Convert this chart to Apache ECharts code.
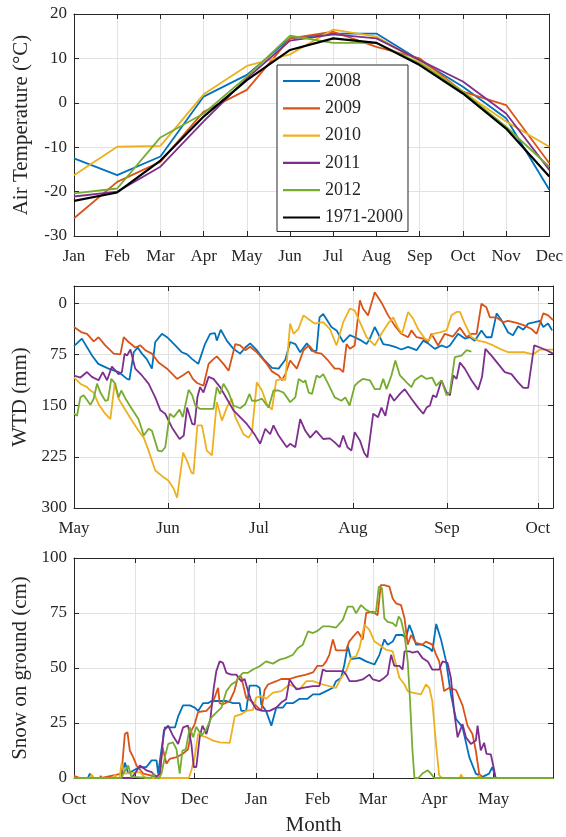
<!DOCTYPE html>
<html>
<head>
<meta charset="utf-8">
<script src="https://cdn.jsdelivr.net/npm/echarts@6/dist/echarts.min.js"></script>
<style>
html, body { margin: 0; padding: 0; background: #fff; }
#chart { width: 566px; height: 837px; }
</style>
</head>
<body>
<div id="chart"></div>
<script>
// ---- air temperature, monthly means (deg C)
const airMonths = ['Jan','Feb','Mar','Apr','May','Jun','Jul','Aug','Sep','Oct','Nov','Dec'];
const air2008 = [-12.5, -16.3, -12.1, 1.4, 6.3, 14.5, 15.6, 15.6, 9.6, 3.6, -3.5, -19.6];
const air2009 = [-26, -17.8, -13.3, -2, 2.9, 14.5, 16, 12.6, 10, 2.5, -0.5, -13.6];
const air2010 = [-16.3, -9.9, -9.7, 1.9, 8.3, 10.9, 16.5, 14.9, 9.3, 2.5, -4.2, -9.9];
const air2011 = [-21.1, -20, -14.4, -4.2, 5.5, 14, 15.4, 14.5, 9.6, 4.8, -2.4, -15.1];
const air2012 = [-20.4, -19.3, -7.8, -2.4, 5.9, 15.1, 13.5, 13.5, 8.9, 2.5, -5.4, -14.4];
const airNormal = [-22.1, -20.2, -13, -3.1, 5.1, 11.9, 14.5, 13.5, 8.5, 2.1, -5.8, -16.6];

// ---- water table depth, [days since May 1, mm]
const wtdMonthDays = [0, 31, 61, 92, 123, 153];
const wtdMonthLabels = ['May','Jun','Jul','Aug','Sep','Oct'];
const wtd2008 = [[0,63],[2.6,52],[6,77],[8,89],[11.4,96],[14.7,101],[17.5,111],[18.3,112],[19.7,72],[21,65],[22.4,74],[24,82],[25.7,96],[26.8,57],[29,45],[30.7,50],[33.4,62],[35.6,72],[37.3,75],[39,82],[41,89],[43.2,60],[44.9,45],[46.5,44],[47.1,55],[48.4,39],[50.4,55],[52.6,67],[54.8,74],[56.5,65],[58.1,59],[60.3,69],[62.5,82],[65.3,95],[67.5,96],[69.7,83],[71.3,57],[73,60],[74.6,72],[76.8,59],[78.5,70],[80,70],[81,21],[82.2,16],[84.9,35],[86.6,40],[88.8,57],[91,47],[92.6,50],[94.8,55],[96.5,60],[97.6,52],[99.2,35],[100.9,50],[102,60],[104.2,62],[106.4,65],[108,68],[110.2,64],[113,69],[115.2,55],[116.8,59],[119,67],[121.2,62],[122.9,65],[124,62],[126.7,45],[128.9,52],[130.6,50],[132.2,55],[134.4,40],[136,50],[137.7,50],[139.4,15],[141,25],[143.2,43],[144.8,47],[146.5,34],[148.2,39],[149.8,30],[152,28],[153.7,26],[154.8,35],[156.4,30],[157.7,40]];
const wtd2009 = [[0,35],[2.6,43],[4.3,45],[6.5,56],[8.1,50],[10.3,62],[13.1,74],[15.3,75],[16.4,50],[18,57],[20.2,65],[21.9,62],[23.5,69],[25.7,74],[27.9,87],[30.7,96],[34,111],[36.2,105],[37.8,100],[39.2,111],[40.6,117],[42.7,121],[44.4,89],[46,82],[47.1,78],[49.3,89],[51,99],[53.2,60],[54.8,62],[56.5,69],[58.1,64],[60.3,72],[63.6,89],[65.3,100],[67.5,106],[68.6,113],[69.7,104],[71.3,84],[73.5,96],[75.7,69],[77.5,62],[79.4,72],[81.6,74],[83.8,84],[86,96],[87.6,96],[88.8,101],[89.9,60],[91,67],[92.6,62],[94.3,-4],[95.3,8],[97,18],[99.2,-16],[101.4,-1],[103.6,18],[105.8,33],[108,45],[110.2,50],[111.3,40],[113,50],[115.2,52],[116.8,57],[117.9,45],[120.1,62],[122.3,45],[125,49],[127.3,36],[129.5,50],[131.1,45],[132.8,45],[134.4,1],[136,6],[137.2,21],[139.4,21],[141.6,28],[143.2,26],[146,29],[148.7,33],[150.9,38],[152.6,45],[154.8,15],[156.4,18],[158,25]];
const wtd2010 = [[0,109],[2.1,118],[4.3,123],[5.4,128],[6.5,131],[8.1,148],[10.3,162],[12,170],[12.6,170],[13.4,118],[14.7,140],[17,157],[19.1,172],[21.3,187],[23,197],[24.6,216],[26.8,245],[29,253],[31.2,260],[32.9,272],[34,285],[36,219],[37.3,231],[38.7,248],[39.4,250],[40.7,179],[42.2,179],[43.8,216],[45.5,223],[46,225],[47.1,145],[48.8,172],[50.4,153],[52,140],[53.2,167],[55.9,192],[57.6,197],[58.7,189],[60.3,116],[62,128],[63.6,148],[65.3,156],[66.7,113],[68.6,111],[69.7,113],[71.3,30],[72.4,45],[74,38],[75.7,18],[77.5,24],[79.4,30],[82.2,28],[84.4,38],[86.6,62],[88.8,28],[91,8],[92.6,11],[94.3,28],[96.5,50],[99.2,62],[101.4,45],[103.6,30],[105.3,21],[106.7,35],[108.2,45],[110.2,13],[111.9,23],[113.5,38],[115.7,52],[117,55],[118.4,45],[120.7,43],[122.9,40],[124.5,18],[126.2,13],[127.3,13],[128.9,30],[131.1,50],[133.3,55],[135.5,57],[138.3,62],[140.5,67],[143.2,72],[146,72],[148.7,72],[151.5,75],[153.7,68],[155.9,68],[158,68]];
const wtd2011 = [[0,106],[2.1,109],[4.3,101],[5.9,108],[8.1,113],[9.5,101],[10.9,113],[12.5,93],[14.7,104],[15.8,101],[16.7,74],[17.5,77],[18.6,68],[20.2,96],[22.4,106],[24.6,118],[26.8,138],[28.5,157],[30.1,162],[32.3,182],[34.8,199],[36.2,194],[37.3,153],[39,177],[39.8,178],[40.7,138],[41.6,123],[42.7,131],[44.4,108],[46,111],[48.2,123],[50.4,140],[52.6,157],[54.8,167],[57,177],[58.7,187],[59.8,194],[61.4,206],[63.1,184],[64.7,192],[65.8,179],[67.5,194],[70.2,211],[71.3,206],[73,211],[74.6,170],[76.3,187],[77.9,197],[79.9,187],[82.2,199],[84.4,198],[86,204],[87.6,211],[88.8,194],[90.2,211],[91.5,216],[92.6,189],[94.3,201],[95.7,219],[96.8,226],[98.7,162],[100.3,167],[101.4,153],[102.7,165],[104.2,133],[105.6,143],[107.5,133],[109.1,126],[111.3,140],[113.5,153],[115.2,162],[116.3,153],[117.4,150],[118.4,135],[119.5,138],[121.2,113],[122.9,131],[124,135],[125.1,106],[126.2,111],[127.3,87],[128.9,96],[131.1,113],[133.3,127],[134.6,108],[135.7,67],[137.7,77],[139.9,89],[142.1,101],[144.3,104],[146.5,116],[148.2,124],[149.8,124],[151.8,62],[153.7,65],[155.9,69],[158,74]];
const wtd2012 = [[0,162],[1,165],[2.1,138],[3.2,135],[5.4,149],[6.5,140],[7.6,118],[8.7,131],[10.3,143],[11.2,142],[12.3,111],[13.6,118],[14.7,138],[15.6,128],[17,140],[19.1,155],[21.3,170],[23,194],[24.6,184],[25.7,187],[27.7,216],[29,217],[30.1,211],[31.6,162],[32.9,167],[34.8,156],[35.9,167],[37.8,127],[39,135],[40,150],[41.6,155],[43.8,155],[46,155],[47.1,123],[48.2,133],[49.3,118],[51,131],[52.6,150],[54.8,154],[56.5,148],[57.9,133],[58.7,143],[60.3,143],[62,140],[64.2,153],[65.8,128],[67.5,128],[69.1,131],[71.3,145],[73,138],[74.1,111],[75.7,116],[76.3,113],[77.4,131],[78.5,133],[80,106],[81,109],[82.2,104],[83.8,118],[86,138],[88.2,143],[89.5,138],[90.9,150],[92.6,121],[93.7,116],[95.3,111],[97.6,113],[99.2,126],[100.9,126],[102,111],[103.1,126],[104.7,106],[106,84],[107.5,106],[109.7,116],[111.3,123],[112.4,113],[114.6,106],[116.3,111],[118.1,109],[119.5,121],[121.2,113],[122.9,135],[124,130],[125.6,79],[127.8,77],[129.5,69],[131.1,71]];

// ---- snow depth, [days since Oct 1, cm]
const snowMonthDays = [0, 31, 61, 92, 123, 151, 182, 212];
const snowMonthLabels = ['Oct','Nov','Dec','Jan','Feb','Mar','Apr','May'];
const snow2008 = [[0,0],[7,0],[8,2],[9,0],[24,0],[25.7,7],[27.4,2],[32.4,4.7],[36.6,5],[39.2,8],[41.7,8],[42.5,2],[44.2,13],[45.9,23],[51,23],[52.6,28],[55.1,33],[58.5,33],[61,32],[62.7,30.5],[65.2,34],[67.7,34],[69.4,35],[77,35],[80.3,34],[83.7,34],[84.5,30.5],[87,30.5],[88.7,42],[92,42],[93.8,41],[94.6,33.5],[97,30.5],[99.7,23.8],[102.2,32],[105.5,32],[107.2,34],[110.6,34],[114,36],[118,36],[120.7,38],[124,38],[127.4,39.5],[130.8,41],[132.4,44],[135,45.6],[136.6,51.6],[138.3,60],[140,54],[144.2,54.6],[147.6,53],[151.8,51.6],[154.3,56],[156.8,63],[158.5,60.6],[161,62],[162.7,65],[166,65],[167.7,63.6],[169.4,69.6],[171,66],[172.8,60.6],[176,60.6],[179.5,59],[181,57.6],[183,70],[185.4,63],[188,53],[190.4,38],[193,26.8],[196.3,23],[199.7,9.5],[203,2],[206.4,0.5],[209.7,2],[211.4,5],[213,0],[242,0]];
const snow2009 = [[0,1],[3,0],[13,0],[13.5,1],[14,0],[24,2],[25.7,20],[27,20.8],[28.2,12.5],[29.9,9.5],[31.6,5.7],[35,2],[41.7,0.5],[43.4,2],[44.7,14],[46.7,6.5],[48.4,8.7],[51.8,9.5],[55,11],[57.6,13],[59.3,21.5],[61,24.5],[62.7,30],[66.9,30.5],[69.4,33],[71,36.5],[72.8,41],[73.6,34],[75.3,33.5],[78.7,35],[81,39.5],[82.9,46],[84.5,46],[87,36.5],[89.6,35],[91.3,33.5],[93,32],[94.6,30.5],[96.3,40],[98,42.5],[102.2,44],[104.7,45],[108.9,45],[112.3,46],[117.3,47],[120.7,48],[123,51],[125.7,51],[127.4,53],[129,56],[130.8,63],[132.4,58],[137.5,58],[139,62],[140.8,64],[143.4,66.6],[145.9,63],[147.6,75],[151,75.6],[153.4,74],[155,87.7],[156.8,87.7],[159.3,87],[161,81.6],[162.7,79.4],[165.2,78.6],[167,72.6],[168.6,60.6],[170.3,65],[172.8,61.4],[176,60.6],[177.8,62],[181,60.6],[183,56],[184.5,53],[186.2,44],[187,39.5],[189.6,41],[193,40],[196.3,33],[198.8,23.8],[201.3,20],[203,12.5],[204.7,2],[206.4,0],[242,0]];
const snow2010 = [[0,0],[8,0],[8.9,1.6],[10,0],[20,0],[20.7,1.6],[21.5,0],[23,0],[24,6.5],[25.7,2],[33.3,2.7],[36,0],[58,0],[59.3,3.5],[61,9.5],[62.7,20],[64.4,19.2],[66.9,18.5],[70.3,17],[73.6,16.2],[78.7,16],[81.2,28],[84.5,29],[87,30.5],[90.4,31],[92,36.5],[94.6,37.3],[97,36],[100.5,38.8],[104.7,39.5],[108.9,42.5],[114,40.3],[117.3,44],[120.7,44],[125.7,42.5],[132.4,41],[135,45.6],[137.5,48.6],[140,54.6],[142.5,55.3],[144.2,59],[146.7,69.6],[149.2,67.4],[151.8,62],[154.3,60.6],[157.6,58.3],[161,57.6],[162.7,51.6],[164.4,45.6],[167,42.5],[168.6,39.5],[171,38.8],[175.3,38],[177.8,42.5],[179.5,41],[181,35],[182.9,15.5],[184.5,1.2],[186,0],[195,0],[195.5,1.6],[196.5,0],[204,0],[204.7,1.2],[205.5,0],[242,0]];
const snow2011 = [[0,0],[29,0],[30.8,2],[33.3,5.7],[36.6,3.5],[39.2,2.7],[41.7,0.5],[43.4,2],[45.4,21.5],[47.6,23.8],[50,19.2],[52.6,15.5],[55.1,23],[57.6,23.8],[59.3,15.5],[60.5,5],[61.8,5],[63.5,18.5],[64.9,23.8],[66.9,20],[68.9,26.8],[70.6,41],[71.9,48.6],[73.6,53],[75.3,52.3],[77,47.8],[79.5,47],[82,47],[84.5,44],[86.2,45],[87.9,39.5],[89.6,35],[92,31.3],[95.5,30.5],[98.8,30.5],[102.2,32],[104.7,34.3],[107.2,35.8],[108.9,44.8],[110.6,42.5],[112.3,40.3],[115.6,41],[120.7,41.8],[124,41.8],[125.7,49.3],[127.4,48.6],[136,48.6],[137.5,47],[139.2,44],[142.5,44],[145.9,44.8],[149.2,47],[151,44.8],[154.3,44],[156.8,45.6],[158.5,47],[160.2,56],[161.8,51],[164.4,51],[166,49.3],[167,57.6],[169.4,57.6],[171,57],[173.6,57.6],[176,54.6],[178.7,53],[181,49.3],[184.5,49.3],[186.2,53],[188.7,52.3],[190.4,45.6],[192,30.5],[193.8,18.5],[196.3,24.5],[198,18.5],[200.5,15.5],[203,17],[203.9,23.8],[205.5,12.5],[207.2,16],[208.4,11],[210.6,10.7],[212.3,3.5],[213,0],[242,0]];
const snow2012 = [[0,0],[24,0],[24.9,2],[27.4,5.7],[29,0.5],[39,0],[40,2],[41,0],[43,0],[44.2,2],[45.9,9.5],[47.6,15.5],[50,16.2],[51.8,13],[53.4,2],[54.8,12.5],[56.5,13],[58.5,23],[60.2,18.5],[61.8,23.3],[64.4,19.2],[66.9,22.3],[69.4,27.5],[72,29.8],[74.5,32],[77,39.5],[79.5,42.5],[82,44],[83.7,46.3],[85.4,47.8],[87.9,47.8],[90.4,49.3],[93.8,50.8],[97,53],[100.5,52],[103.9,53.8],[107.2,54.6],[110.6,56],[113,59],[115.6,60.6],[118.2,66.6],[120.7,65.9],[123.2,67],[125.7,68.9],[129,68.9],[132.4,68.4],[135.8,71.9],[138.3,77.9],[140.8,77.9],[142.5,74.9],[145,78.6],[147.6,76.4],[151,74.9],[152.6,75.6],[154,87],[155.6,86.2],[156.8,72.6],[158.5,71],[161,70.4],[162.7,68.9],[164,73.4],[165.2,71.9],[167,65],[168.6,53],[169.7,36.5],[171,12.5],[172,0],[174,0],[176,2],[178.7,3.5],[180.3,2],[182,0],[242,0]];

const years = ['2008','2009','2010','2011','2012'];
const colors = ['#0072BD','#D95319','#EDB120','#7E2F8E','#77AC30'];
const airData = [air2008, air2009, air2010, air2011, air2012];
const wtdData = [wtd2008, wtd2009, wtd2010, wtd2011, wtd2012];
const snowData = [snow2008, snow2009, snow2010, snow2011, snow2012];

const FONT = 'Liberation Serif';
const INK = '#262626';
const GRIDC = '#e2e2e2';

function baseAxis(o) {
  return Object.assign({
    axisLine: { show: true, onZero: false, lineStyle: { color: INK, width: 1 } },
    axisTick: { show: true, inside: true, length: 5, lineStyle: { color: INK } },
    axisLabel: { color: INK, fontFamily: FONT, fontSize: 17 },
    splitLine: { show: true, lineStyle: { color: GRIDC, width: 1 } },
    nameTextStyle: { color: INK, fontFamily: FONT, fontSize: 21 }
  }, o);
}
// mirror axis: only the box edge with inner ticks
function mirror(o) {
  const a = baseAxis(o);
  a.axisLabel = Object.assign({}, a.axisLabel, { show: false });
  a.splitLine = { show: false };
  return a;
}

function labelFor(days, labels) {
  return v => { const i = days.indexOf(v); return i < 0 ? '' : labels[i]; };
}

const xAxis = [
  baseAxis({ type: 'category', gridIndex: 0, data: airMonths, boundaryGap: false,
    axisLabel: { color: INK, fontFamily: FONT, fontSize: 17, interval: 0, margin: 12 } }),
  mirror({ type: 'category', gridIndex: 0, data: airMonths, boundaryGap: false, position: 'top' }),
  baseAxis({ type: 'value', gridIndex: 1, min: 0, max: 158,
    axisTick: { inside: true, length: 5, lineStyle: { color: INK }, customValues: wtdMonthDays },
    axisLabel: { color: INK, fontFamily: FONT, fontSize: 17, margin: 12, customValues: wtdMonthDays,
      formatter: labelFor(wtdMonthDays, wtdMonthLabels) } }),
  mirror({ type: 'value', gridIndex: 1, min: 0, max: 158, position: 'top',
    axisTick: { inside: true, length: 5, lineStyle: { color: INK }, customValues: wtdMonthDays } }),
  baseAxis({ type: 'value', gridIndex: 2, min: 0, max: 242,
    name: 'Month', nameLocation: 'middle', nameGap: 37,
    axisTick: { inside: true, length: 5, lineStyle: { color: INK }, customValues: snowMonthDays },
    axisLabel: { color: INK, fontFamily: FONT, fontSize: 17, margin: 13, customValues: snowMonthDays,
      formatter: labelFor(snowMonthDays, snowMonthLabels) } }),
  mirror({ type: 'value', gridIndex: 2, min: 0, max: 242, position: 'top',
    axisTick: { inside: true, length: 5, lineStyle: { color: INK }, customValues: snowMonthDays } })
];

const wtdTicks = [0, 75, 150, 225, 300];
const yAxis = [
  baseAxis({ type: 'value', gridIndex: 0, min: -30, max: 20, interval: 10,
    name: 'Air Temperature (°C)', nameLocation: 'middle', nameGap: 42,
    axisLabel: { color: INK, fontFamily: FONT, fontSize: 17, margin: 7 } }),
  mirror({ type: 'value', gridIndex: 0, min: -30, max: 20, interval: 10, position: 'right' }),
  baseAxis({ type: 'value', gridIndex: 1, min: -25, max: 300, inverse: true,
    name: 'WTD (mm)', nameLocation: 'middle', nameGap: 42,
    axisTick: { inside: true, length: 5, lineStyle: { color: INK }, customValues: wtdTicks },
    axisLabel: { color: INK, fontFamily: FONT, fontSize: 17, margin: 7, customValues: wtdTicks } }),
  mirror({ type: 'value', gridIndex: 1, min: -25, max: 300, inverse: true, position: 'right',
    axisTick: { inside: true, length: 5, lineStyle: { color: INK }, customValues: wtdTicks } }),
  baseAxis({ type: 'value', gridIndex: 2, min: 0, max: 100, interval: 25,
    name: 'Snow on ground (cm)', nameLocation: 'middle', nameGap: 42,
    axisLabel: { color: INK, fontFamily: FONT, fontSize: 17, margin: 7 } }),
  mirror({ type: 'value', gridIndex: 2, min: 0, max: 100, interval: 25, position: 'right' })
];

const series = [];
function addLine(name, color, width, data, idx) {
  series.push({
    type: 'line', name: name, xAxisIndex: idx, yAxisIndex: idx, data: data,
    symbol: 'none', smooth: false,
    lineStyle: { color: color, width: width }, itemStyle: { color: color }
  });
}
years.forEach((y, i) => addLine(y, colors[i], 1.8, airData[i], 0));
addLine('1971-2000', '#000000', 2.2, airNormal, 0);
years.forEach((y, i) => addLine(y, colors[i], 1.8, wtdData[i], 2));
years.forEach((y, i) => addLine(y, colors[i], 1.8, snowData[i], 4));

const chart = echarts.init(document.getElementById('chart'));
chart.setOption({
  animation: false,
  backgroundColor: '#fff',
  grid: [
    { left: 74, top: 14, width: 479, height: 222 },
    { left: 74, top: 286, width: 479, height: 222 },
    { left: 74, top: 558, width: 479, height: 221 }
  ],
  legend: {
    data: years.concat(['1971-2000']),
    orient: 'vertical', left: 277, top: 65,
    icon: 'rect', itemWidth: 37, itemHeight: 2.2, itemGap: 9.3,
    padding: [7, 5, 5, 6],
    backgroundColor: '#fff', borderColor: INK, borderWidth: 1, borderRadius: 0,
    textStyle: { color: INK, fontFamily: FONT, fontSize: 18 },
    selectedMode: false
  },
  xAxis: xAxis,
  yAxis: yAxis,
  series: series
});
</script>
</body>
</html>
